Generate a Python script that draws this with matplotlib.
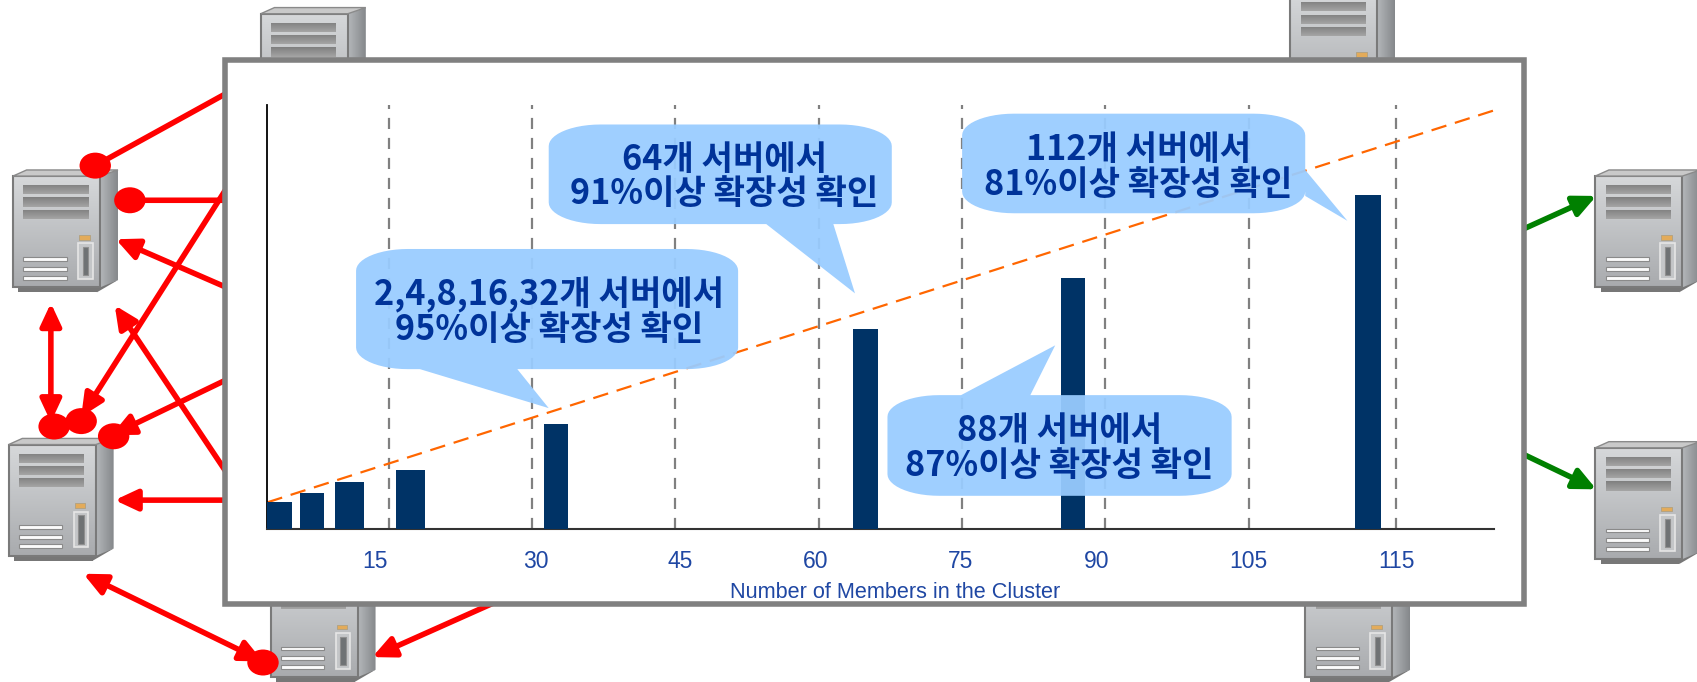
import numpy as np
import matplotlib
matplotlib.use('Agg')
import matplotlib.pyplot as plt
from matplotlib.patches import Polygon, Rectangle, Ellipse

# ---------- data ----------
bar_pos    = [3.6, 7.0, 10.9, 17.3, 32.5, 64.9, 86.6, 117.5]
bar_width  = [2.6, 2.6, 3.0, 3.0, 2.5, 2.6, 2.5, 2.7]
bar_height = [7.8, 10.6, 13.8, 17.2, 30.3, 57.8, 72.5, 96.6]
ideal_x    = [2.32, 130.6]
ideal_y    = [7.8, 120.9]
grid_x     = [15, 30, 45, 60, 75, 90, 105, 120.4]
tick_pos   = [13.6, 30.4, 45.5, 59.7, 74.8, 89.06, 105, 120.4]
tick_txt   = ['15', '30', '45', '60', '75', '90', '105', '115']
x_title    = 'Number of Members in the Cluster'
notes      = ['2,4,8,16,32개 서버에서\n95%이상 확장성 확인',
              '64개 서버에서\n91%이상 확장성 확인',
              '112개 서버에서\n81%이상 확장성 확인',
              '88개 서버에서\n87%이상 확장성 확인']

W, H = 1568, 630   # layout is measured on this grid
BLUE = '#1f47a3'
NAVY = '#003366'
plt.rcParams['font.family'] = ['Noto Sans CJK KR', 'DejaVu Sans']

fig = plt.figure(figsize=(16.97, 6.82), dpi=100)

def layer(z):
    a = fig.add_axes([0, 0, 1, 1], zorder=z)
    a.set_xlim(0, W); a.set_ylim(H, 0); a.axis('off'); a.patch.set_alpha(0)
    return a

back = layer(0)
over = layer(3)

# ---------- servers ----------
def shaded(ax, pts, c0, c1, vertical=True, z=2):
    pts = np.array(pts, float)
    n = 40
    g = np.linspace(0, 1, n)
    g = g[:, None] if vertical else g[None, :]
    rgb0 = np.array(matplotlib.colors.to_rgb(c0)); rgb1 = np.array(matplotlib.colors.to_rgb(c1))
    img = rgb0 + (rgb1 - rgb0) * g[..., None]
    im = ax.imshow(img, extent=(pts[:, 0].min(), pts[:, 0].max(), pts[:, 1].max(), pts[:, 1].min()),
                   aspect='auto', zorder=z, interpolation='bilinear')
    clip = Polygon(pts, closed=True, transform=ax.transData, fc='none', ec='none')
    ax.add_patch(clip)
    im.set_clip_path(clip)

def server(ax, x0, y0, w=97, h=113):
    X = lambda f: x0 + f * w
    Y = lambda f: y0 + f * h
    box = lambda a, b, c, d: [(X(a), Y(b)), (X(c), Y(b)), (X(c), Y(d)), (X(a), Y(d))]
    ax.add_patch(Polygon([(X(.05), Y(.9)), (X(.8), Y(.9)), (X(.8), Y(1)), (X(.05), Y(1))], fc='#777777', ec='none', zorder=2))
    ax.add_patch(Polygon([(X(.78), Y(.95)), (X(1), Y(.9)), (X(.8), Y(1))], fc='#777777', ec='none', zorder=2))
    shaded(ax, box(0, .05, .83, .96), '#d6d8da', '#a9abae')
    ax.add_patch(Polygon(box(0, .05, .83, .96), fc='none', ec='#7a7a7a', lw=1.5, zorder=3))
    shaded(ax, [(X(.83), Y(.05)), (X(1), Y(0)), (X(1), Y(.9)), (X(.83), Y(.96))], '#b4b7ba', '#85888b', vertical=False)
    ax.add_patch(Polygon([(X(0), Y(.05)), (X(.13), Y(0)), (X(1), Y(0)), (X(.83), Y(.05))], fc='#c9c9c9', ec='#8a8a8a', lw=1, zorder=3))
    for v in (.125, .225, .325):
        shaded(ax, box(.1, v, .72, v + .075), '#7f7f7f', '#a5a5a5', z=4)
    for v in (.71, .79, .865):
        ax.add_patch(Polygon(box(.1, v, .51, v + .032), fc='#fbfbfb', ec='#8a8a8a', lw=.8, zorder=4))
    ax.add_patch(Polygon(box(.62, .6, .76, .89), fc='#c4c6c8', ec='#e6e6e6', lw=1.2, zorder=4))
    ax.add_patch(Polygon(box(.665, .63, .715, .86), fc='#6f7274', ec='#8f8f8f', lw=.8, zorder=5))
    ax.add_patch(Polygon(box(.63, .53, .73, .57), fc='#e3ab5a', ec='#b0a080', lw=.6, zorder=4))

for sx, sy in [(12, 157), (8, 405), (241, 7), (1192, -12), (250, 517), (1206, 517), (1474, 157), (1474, 408)]:
    server(back, sx, sy)

# ---------- links ----------
def link(a, b, color='red', head=True, both=False):
    st = '<|-|>' if both else ('-|>' if head else '-')
    back.annotate('', xy=b, xytext=a, zorder=6, annotation_clip=False,
                  arrowprops=dict(arrowstyle=st + (',head_length=0.9,head_width=0.42' if head or both else ''),
                                  lw=4, color=color, shrinkA=0, shrinkB=0, mutation_scale=15))

def ball(x, y):
    back.add_patch(Ellipse((x, y), 29, 24, fc='red', ec='none', zorder=7))

link((215, 83), (88, 153), head=False); ball(88, 153)
link((215, 185), (120, 185), head=False); ball(120, 185)
link((215, 268), (107, 221))
link((215, 165), (75, 385)); ball(75, 389)
link((215, 445), (106, 282))
link((47, 390), (47, 280), both=True); ball(50, 394)
link((215, 348), (103, 402)); ball(105, 403)
link((215, 462), (106, 462))
link((243, 611), (77, 530), both=True); ball(243, 612)
link((465, 553), (344, 607))
link((1400, 215), (1475, 181), color='green')
link((1400, 416), (1475, 452), color='green')

# ---------- frame ----------
back.add_patch(Rectangle((208, 55), 1200, 503, fc='white', ec='#808080', lw=4, zorder=8))

# ---------- chart ----------
ax = fig.add_axes([247 / W, 1 - 489 / H, (1380 - 247) / W, (489 - 97) / H], zorder=1)
ax.patch.set_alpha(0)
ax.set_xlim(2.32, 130.6)
ax.set_ylim(0, 122.5)
ax.bar(bar_pos, bar_height, width=bar_width, color=NAVY, zorder=3)
ax.vlines(grid_x, 0, 122.5, color='#808080', lw=1.6, linestyles=(0, (5, 4)), zorder=1)
ax.plot(ideal_x, ideal_y, color='#ff6600', lw=1.6, dashes=(7, 4), zorder=2)
for s in ('top', 'right'):
    ax.spines[s].set_visible(False)
ax.spines['left'].set_linewidth(1.3)
ax.spines['bottom'].set_linewidth(1.5)
ax.spines['bottom'].set_color('#333333')
ax.set_yticks([])
ax.set_xticks(tick_pos, tick_txt)
ax.tick_params(axis='x', length=0, pad=15, labelsize=16.5, labelcolor=BLUE)
for t in ax.get_xticklabels():
    t.set_family(['Liberation Sans Narrow', 'Liberation Sans'])
ax.set_xlabel(x_title, fontsize=15.6, color=BLUE, labelpad=6, x=(827 - 247) / (1380 - 247),
              family=['Liberation Sans Narrow', 'Liberation Sans'])

# ---------- callouts ----------
def corner(cx, cy, rx, ry, a0, a1):
    t = np.radians(np.linspace(a0, a1, 14))
    return np.column_stack([cx + rx * np.cos(t), cy + ry * np.sin(t)])

def callout(x0, y0, x1, y1, side, tail, text, tx, ty):
    rx, ry = 48, 20
    top = [corner(x0 + rx, y0 + ry, rx, ry, 180, 270)]
    right = [corner(x1 - rx, y0 + ry, rx, ry, 270, 360)]
    bottom = [corner(x1 - rx, y1 - ry, rx, ry, 0, 90)]
    left = [corner(x0 + rx, y1 - ry, rx, ry, 90, 180)]
    extra = {'top': [], 'right': [], 'bottom': []}
    extra[side] = [np.array(tail, float)]
    pts = np.vstack(top + extra['top'] + right + extra['right'] + bottom + extra['bottom'] + left)
    over.add_patch(Polygon(pts, closed=True, fc='#99ccff', ec='none', alpha=.94, zorder=5))
    over.text(tx, ty, text, ha='center', va='center', fontsize=24.6, fontweight='bold',
              color='#003399', linespacing=.99, zorder=6)

callout(329, 230, 682, 341, 'bottom', [(478, 341), (507, 377), (388, 341)], notes[0], 507, 288)
callout(507, 115, 824, 207, 'bottom', [(770, 207), (790, 271), (708, 207)], notes[1], 669, 163)
callout(889, 105, 1206, 197, 'right', [(1206, 157), (1245, 204), (1206, 181)], notes[2], 1052, 154)
callout(820, 365, 1138, 458, 'top', [(888, 365), (975, 319), (952, 365)], notes[3], 979, 414)

back.set_xlim(0, W); back.set_ylim(H, 0)
fig.savefig('out.png', dpi=100)
